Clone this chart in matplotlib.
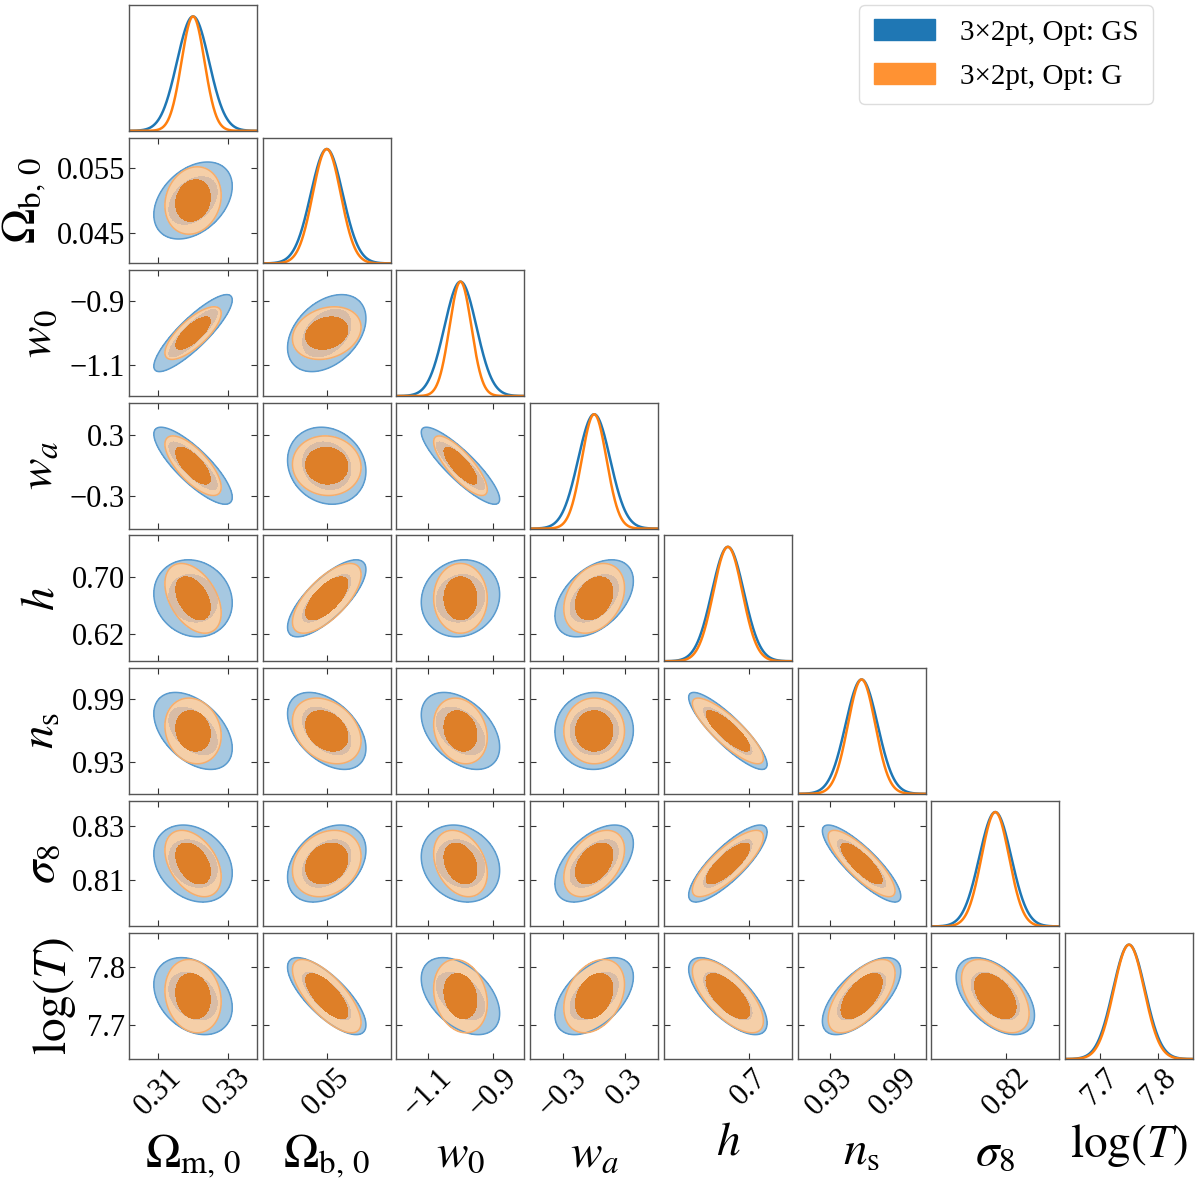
import numpy as np
import matplotlib
matplotlib.use('Agg')
import matplotlib.pyplot as plt
from matplotlib.patches import Patch

plt.rcParams['font.family'] = ['Liberation Serif', 'DejaVu Serif']
plt.rcParams['mathtext.fontset'] = 'stix'
plt.rcParams['axes.unicode_minus'] = True

# ---------------- data ----------------
param_labels = [r'$\Omega_{\rm m,\,0}$', r'$\Omega_{\rm b,\,0}$', r'$w_0$', r'$w_a$',
                r'$h$', r'$n_{\rm s}$', r'$\sigma_8$', r'$\log(T)$']
means = [0.32, 0.05, -1.0, 0.0, 0.67, 0.96, 0.816, 7.75]
sig_gs = [0.0046, 0.0024, 0.0497, 0.155, 0.0223, 0.0150, 0.0058, 0.0273]
sig_g = [0.0033, 0.0021, 0.0340, 0.120, 0.0202, 0.0128, 0.0050, 0.0260]

# lower-triangle correlation coefficients (row i, columns 0..i-1)
corr_gs = [[],
           [0.37],
           [0.86, 0.38],
           [-0.82, -0.14, -0.87],
           [-0.12, 0.75, 0.10, 0.45],
           [-0.45, -0.45, -0.42, 0.02, -0.87],
           [-0.25, 0.35, -0.18, 0.52, 0.82, -0.85],
           [-0.30, -0.75, -0.45, 0.50, -0.70, 0.65, -0.50]]
corr_g = [[],
          [0.15],
          [0.75, 0.22],
          [-0.72, -0.05, -0.80],
          [-0.42, 0.68, 0.00, 0.30],
          [-0.15, -0.30, -0.20, 0.00, -0.84],
          [-0.40, 0.22, -0.30, 0.42, 0.80, -0.82],
          [-0.15, -0.72, -0.20, 0.32, -0.68, 0.62, -0.48]]

xticks = [[0.31, 0.33], [0.05], [-1.1, -0.9], [-0.3, 0.3], [0.7], [0.93, 0.99], [0.82], [7.7, 7.8]]
xticklabels = [['0.31', '0.33'], ['0.05'], ['\u22121.1', '\u22120.9'], ['\u22120.3', '0.3'],
               ['0.7'], ['0.93', '0.99'], ['0.82'], ['7.7', '7.8']]
yticks = [[], [0.045, 0.055], [-1.1, -0.9], [-0.3, 0.3], [0.62, 0.70], [0.93, 0.99], [0.81, 0.83], [7.7, 7.8]]
yticklabels = [[], ['0.045', '0.055'], ['\u22121.1', '\u22120.9'], ['\u22120.3', '0.3'],
               ['0.62', '0.70'], ['0.93', '0.99'], ['0.81', '0.83'], ['7.7', '7.8']]

series_names = ['3\u00d72pt, Opt: GS', '3\u00d72pt, Opt: G']

# ---------------- style ----------------
n_ext = 4.0
chi68, chi95 = 2.2789, 5.9915
c_blue_line = '#1f77b4'
c_orange_line = '#ff7f0e'
c_blue_out = '#a6c8e1'
c_blue_in = '#86b3d8'
c_blue_edge = '#5a9bcf'
c_or_out = '#f5cfa8'
c_ring = '#d8bca6'
c_or_in = '#de7f28'
c_or_edge = '#f5ad6c'
spine_col = '#555555'
tick_fs = 22
label_fs = 34

n = len(means)
lims = [(m - n_ext * s, m + n_ext * s) for m, s in zip(means, sig_gs)]

fig = plt.figure(figsize=(12, 11.89), dpi=100)
gs = fig.add_gridspec(n, n, left=0.1075, right=0.9942, top=0.9958, bottom=0.1093,
                      wspace=0.044, hspace=0.054)


def chi2_field(X, Y, mx, my, sx, sy, r):
    dx = (X - mx) / sx
    dy = (Y - my) / sy
    return (dx ** 2 - 2 * r * dx * dy + dy ** 2) / (1 - r ** 2)


for i in range(n):
    for j in range(i + 1):
        ax = fig.add_subplot(gs[i, j])
        ax.set_xlim(*lims[j])
        if i == j:
            x = np.linspace(lims[j][0], lims[j][1], 400)
            yb = np.exp(-0.5 * ((x - means[j]) / sig_gs[j]) ** 2)
            yo = np.exp(-0.5 * ((x - means[j]) / sig_g[j]) ** 2)
            ax.plot(x, yb, color=c_blue_line, lw=1.8)
            ax.plot(x, yo, color=c_orange_line, lw=1.8)
            ax.set_ylim(0, 1.1)
            ax.set_yticks([])
        else:
            ax.set_ylim(*lims[i])
            xs = np.linspace(lims[j][0], lims[j][1], 240)
            ys = np.linspace(lims[i][0], lims[i][1], 240)
            X, Y = np.meshgrid(xs, ys)
            cb = chi2_field(X, Y, means[j], means[i], sig_gs[j], sig_gs[i], corr_gs[i][j])
            co = chi2_field(X, Y, means[j], means[i], sig_g[j], sig_g[i], corr_g[i][j])
            ax.contourf(X, Y, cb, levels=[0, chi95], colors=[c_blue_out])
            ax.contourf(X, Y, cb, levels=[0, chi68], colors=[c_blue_in])
            ax.contour(X, Y, cb, levels=[chi95], colors=[c_blue_edge], linewidths=1.1)
            ax.contourf(X, Y, co, levels=[0, chi95], colors=[c_or_out])
            ring = np.maximum(cb / chi68, co / chi95)
            ax.contourf(X, Y, ring, levels=[0, 1], colors=[c_ring])
            ax.contourf(X, Y, co, levels=[0, chi68], colors=[c_or_in])
            ax.contour(X, Y, co, levels=[chi95], colors=[c_or_edge], linewidths=1.1)
            ax.set_yticks(yticks[i])
            if j == 0:
                ax.set_yticklabels(yticklabels[i], fontsize=tick_fs)
                ax.set_ylabel(param_labels[i], fontsize=label_fs, labelpad=6)
            else:
                ax.set_yticklabels([])
        if i == j and i != n - 1:
            ax.set_xticks([])
        else:
            ax.set_xticks(xticks[j])
        if i == n - 1:
            ax.set_xticklabels(xticklabels[j], fontsize=tick_fs, rotation=45)
            ax.set_xlabel(param_labels[j], fontsize=label_fs, labelpad=8)
        else:
            ax.set_xticklabels([])
        ax.tick_params(direction='in', top=(i != j), right=(i != j), length=4, width=0.8,
                       color='#333333', pad=3)
        for sp in ax.spines.values():
            sp.set_color(spine_col)
            sp.set_linewidth(1.0)

handles = [Patch(facecolor=c_blue_line, edgecolor=c_blue_line),
           Patch(facecolor='#ff9233', edgecolor='#ff9233')]
fig.legend(handles, series_names, loc='upper right', bbox_to_anchor=(0.961, 0.996),
           borderaxespad=0.0, fontsize=21, handlelength=2.1, handleheight=0.7,
           handletextpad=0.85, labelspacing=0.6, borderpad=0.5, frameon=True,
           fancybox=True, edgecolor='#dddddd', framealpha=1.0)

fig.savefig('out.png', dpi=100)
